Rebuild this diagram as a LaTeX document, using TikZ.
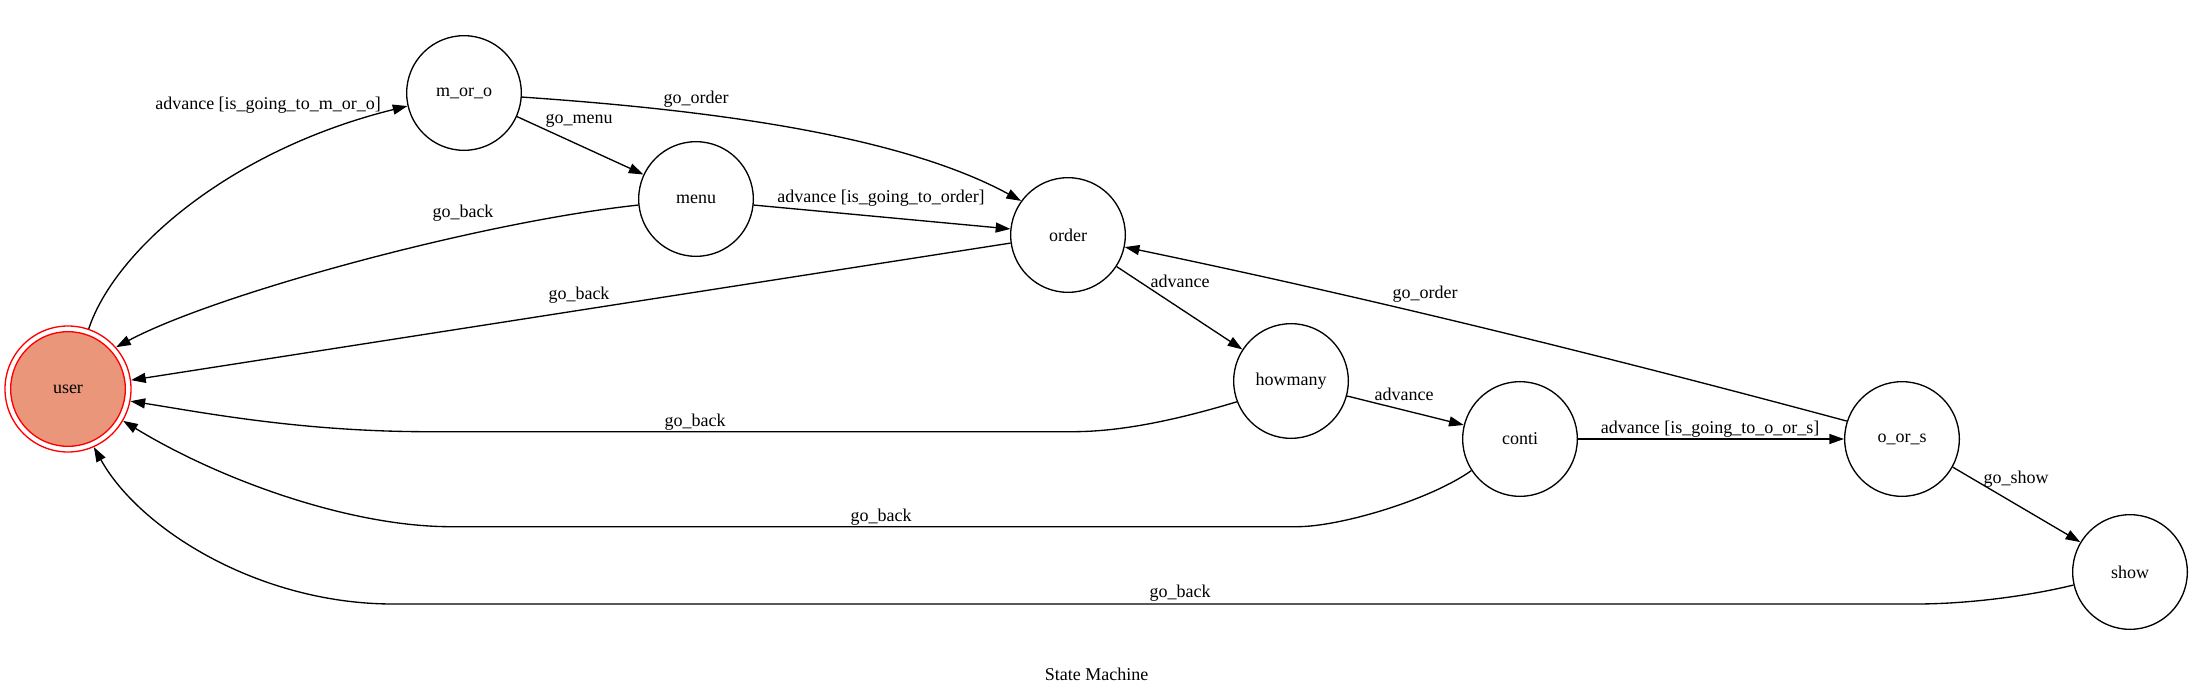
\documentclass[tikz,border=0pt]{standalone}
\usepackage{fontspec}
\setmainfont{Liberation Serif}
\usetikzlibrary{arrows.meta}
\definecolor{usersalmon}{RGB}{233,150,122}
\begin{document}
\begin{tikzpicture}[x=0.75pt,y=-0.75pt,
  state/.style={circle,draw=black,line width=1pt,minimum size=86pt,inner sep=0pt,font=\fontsize{13.5}{16}\selectfont},
  lbl/.style={font=\fontsize{13.5}{16}\selectfont,inner sep=0pt},
  edge/.style={line width=1pt,-{Triangle[length=11pt,width=7.5pt]}},
]
\useasboundingbox (0,0) rectangle (2193,696);
\fill[white] (0,0) rectangle (2193,696);

% nodes
\node[circle,draw=red,line width=1pt,minimum size=94.5pt,inner sep=0pt] (user) at (68,389) {};
\node[state,draw=red,fill=usersalmon] (userin) at (68,389) {user};
\node[state] (m_or_o) at (464,93) {m\_or\_o};
\node[state] (menu) at (696,199) {menu};
\node[state] (order) at (1068,235) {order};
\node[state] (howmany) at (1291,381) {howmany};
\node[state] (conti) at (1520,439) {conti};
\node[state] (o_or_s) at (1902,439) {o\_or\_s};
\node[state] (show) at (2130,572) {show};

% edges
\draw[edge] (user.71) .. controls (115,250) and (230,150) .. (m_or_o.193);
\draw[edge] (m_or_o.-4) .. controls (680,108) and (891,130) .. (order.144);
\draw[edge] (m_or_o.-24) -- (menu.155);
\draw[edge] (menu.-6) -- (order.174);
\draw[edge] (menu.186) .. controls (480,222) and (215.5,294) .. (user.41);
\draw[edge] (order.188) -- (user.8);
\draw[edge] (order.-33) -- (howmany.147);
\draw[edge] (o_or_s.162) .. controls (1605,356) and (1365,297) .. (order.-12);
\draw[edge] (howmany.201) .. controls (1160,425) and (1110,431.7) .. (1072,431.7) -- (428.6,431.7) .. controls (300,431.7) and (200,412) .. (user.-11);
\draw[edge] (howmany.-15) -- (conti.166);
\draw[edge] (conti.0) -- (o_or_s.180);
\draw[edge] (conti.213) .. controls (1430,500) and (1340,526.7) .. (1297,526.7) -- (451,526.7) .. controls (350,526.7) and (220,480) .. (user.-30);
\draw[edge] (o_or_s.-29) -- (show.149);
\draw[edge] (show.193) .. controls (2020,598) and (1960,604) .. (1916,604) -- (393,604) .. controls (260,604) and (140,530) .. (user.-66);

% labels
\node[lbl] (l1) at (268,105) {advance [is\_going\_to\_m\_or\_o]};
\node[lbl] (l2) at (696,99) {go\_order};
\node[lbl] (l3) at (579,121) {go\_menu};
\node[lbl] (l4) at (881,198) {advance [is\_going\_to\_order]};
\node[lbl] (l5) at (463,213) {go\_back};
\node[lbl] (l6) at (579,295) {go\_back};
\node[lbl] (l7) at (1180,281) {advance};
\node[lbl] (l8) at (1425,294) {go\_order};
\node[lbl] (l9) at (695,422) {go\_back};
\node[lbl] (l10) at (1404,394) {advance};
\node[lbl] (l11) at (1710,429) {advance [is\_going\_to\_o\_or\_s]};
\node[lbl] (l12) at (881,517) {go\_back};
\node[lbl] (l13) at (2016,479) {go\_show};
\node[lbl] (l14) at (1180,593) {go\_back};
\node[lbl] (title) at (1096.5,674) {State Machine};
\end{tikzpicture}
\end{document}
